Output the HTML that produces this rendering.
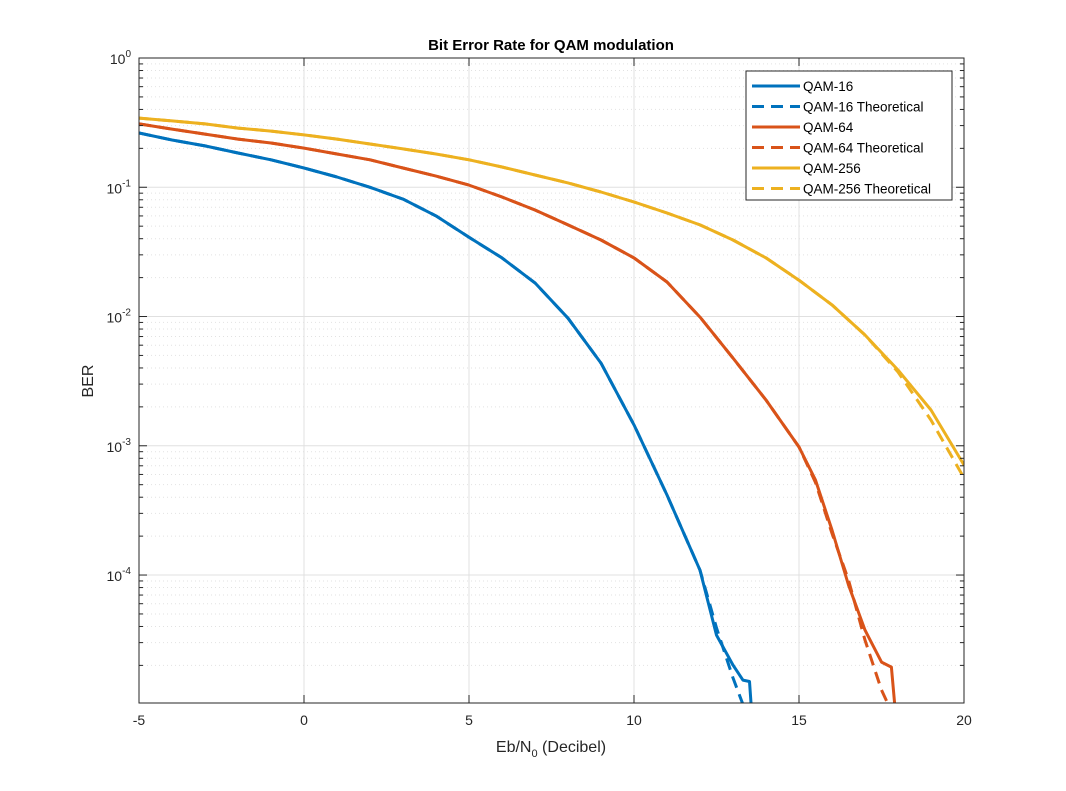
<!DOCTYPE html>
<html><head><meta charset="utf-8"><style>
html,body{margin:0;padding:0;background:#fff;width:1066px;height:791px;overflow:hidden}
svg text{font-family:"Liberation Sans",Arial,sans-serif;fill:#262626}
</style></head><body>
<svg id="chart" width="1066" height="791" xmlns="http://www.w3.org/2000/svg">
<rect x="0" y="0" width="1066" height="791" fill="#fff"/>
<rect x="139" y="58" width="825" height="645" fill="#fff"/>
<g id="grid"></g>
<g id="series"></g>
<rect x="139" y="58" width="825" height="645" fill="none" stroke="#262626" stroke-width="1"/>
<g id="ticks"></g>
<text x="551" y="50" text-anchor="middle" font-size="15" font-weight="bold" style="fill:#000">Bit Error Rate for QAM modulation</text>
<text x="551" y="752" text-anchor="middle" font-size="16">Eb/N<tspan font-size="11" dy="5">0</tspan><tspan dy="-5"> (Decibel)</tspan></text>
<text transform="translate(93,381) rotate(-90)" text-anchor="middle" font-size="16">BER</text>
<g id="legend"></g>
</svg>
<script>
const snrBlue = [-5,-4,-3,-2,-1,0,1,2,3,4,5,6,7,8,9,10,11,12,12.5,13,13.3,13.5,13.55];
const qam16 = [0.263,0.232,0.209,0.184,0.163,0.141,0.120,0.100,0.081,0.060,0.041,0.0284,0.0182,0.0097,0.00436,0.00145,4.16e-4,1.09e-4,3.43e-5,2.01e-5,1.54e-5,1.50e-5,1.0e-5];
const snrBlueT = [-5,-4,-3,-2,-1,0,1,2,3,4,5,6,7,8,9,10,11,12,12.5,13,13.3];
const qam16T = [0.263,0.232,0.209,0.184,0.163,0.141,0.120,0.100,0.081,0.060,0.041,0.0284,0.0182,0.0097,0.00436,0.00145,4.16e-4,1.09e-4,3.9e-5,1.6e-5,1.0e-5];
const snrOrange = [-5,-4,-3,-2,-1,0,1,2,3,4,5,6,7,8,9,10,11,12,13,14,15,15.5,16,16.5,17,17.5,17.8,17.9];
const qam64 = [0.309,0.282,0.258,0.236,0.220,0.201,0.181,0.163,0.141,0.122,0.104,0.084,0.0667,0.0511,0.0391,0.0284,0.0185,0.0099,0.00477,0.00226,9.78e-4,5.43e-4,2.23e-4,8.37e-5,3.75e-5,2.12e-5,1.94e-5,1.0e-5];
const snrOrangeT = [-5,-4,-3,-2,-1,0,1,2,3,4,5,6,7,8,9,10,11,12,13,14,15,15.5,16,16.5,17,17.5,17.7];
const qam64T = [0.309,0.282,0.258,0.236,0.220,0.201,0.181,0.163,0.141,0.122,0.104,0.084,0.0667,0.0511,0.0391,0.0284,0.0185,0.0099,0.00477,0.00226,9.78e-4,5.2e-4,2.1e-4,9.15e-5,3.14e-5,1.29e-5,1.0e-5];
const snrYellow = [-5,-4,-3,-2,-1,0,1,2,3,4,5,6,7,8,9,10,11,12,13,14,15,16,17,18,19,20];
const qam256 = [0.343,0.326,0.309,0.287,0.272,0.254,0.236,0.216,0.198,0.181,0.163,0.1435,0.1244,0.108,0.0919,0.0769,0.0632,0.0511,0.0391,0.0284,0.0191,0.0123,0.00719,0.00386,0.00189,7.10e-4];
const qam256T = [0.343,0.326,0.309,0.287,0.272,0.254,0.236,0.216,0.198,0.181,0.163,0.1435,0.1244,0.108,0.0919,0.0769,0.0632,0.0511,0.0391,0.0284,0.0191,0.0123,0.00719,0.00372,0.00158,5.63e-4];
const xTicks = [-5,0,5,10,15,20];
const yDecades = [0,-1,-2,-3,-4];
const legendLabels = ["QAM-16","QAM-16 Theoretical","QAM-64","QAM-64 Theoretical","QAM-256","QAM-256 Theoretical"];

const NS="http://www.w3.org/2000/svg";
const X0=139,X1=964,Y0=58,Y1=703,xmin=-5,xmax=20,lmax=0,lmin=-4.99;
const sx=v=>X0+(v-xmin)/(xmax-xmin)*(X1-X0);
const sy=v=>Y0+(lmax-Math.log10(v))/(lmax-lmin)*(Y1-Y0);
function mk(tag,attrs,parent){const e=document.createElementNS(NS,tag);for(const k in attrs)e.setAttribute(k,attrs[k]);parent.appendChild(e);return e;}
const grid=document.getElementById('grid'),ticks=document.getElementById('ticks'),series=document.getElementById('series'),legend=document.getElementById('legend');
for(let d=-5;d<0;d++){for(let m=2;m<=9;m++){const v=m*Math.pow(10,d);const y=sy(v);if(y<Y0||y>Y1)continue;
 const l=mk('line',{x1:X0,x2:X1,y1:y,y2:y,stroke:'#e2e2e2','stroke-dasharray':'1,3','stroke-width':1},grid);
 
 mk('line',{x1:X0,x2:X0+4,y1:y,y2:y,stroke:'#262626'},ticks);mk('line',{x1:X1,x2:X1-4,y1:y,y2:y,stroke:'#262626'},ticks);}}
yDecades.forEach(d=>{const y=sy(Math.pow(10,d));
 const l=mk('line',{x1:X0,x2:X1,y1:y,y2:y,stroke:'#e0e0e0','stroke-width':1},grid);
 
 mk('line',{x1:X0,x2:X0+8,y1:y,y2:y,stroke:'#262626'},ticks);mk('line',{x1:X1,x2:X1-8,y1:y,y2:y,stroke:'#262626'},ticks);
 const t=mk('text',{x:X0-8,y:y+6,'text-anchor':'end','font-size':14},ticks);
 
 t.textContent='10';const s=mk('tspan',{'font-size':10,dy:-7},t);s.textContent=String(d);});
xTicks.forEach(v=>{const x=sx(v);
 const l=mk('line',{x1:x,x2:x,y1:Y0,y2:Y1,stroke:'#e0e0e0','stroke-width':1},grid);
 
 mk('line',{x1:x,x2:x,y1:Y1,y2:Y1-8,stroke:'#262626'},ticks);mk('line',{x1:x,x2:x,y1:Y0,y2:Y0+8,stroke:'#262626'},ticks);
 const t=mk('text',{x:x,y:725,'text-anchor':'middle','font-size':14},ticks);
 t.textContent=String(v);});
const cp=mk('clipPath',{id:'clip'},document.getElementById('chart'));mk('rect',{x:X0,y:Y0,width:X1-X0,height:Y1-Y0},cp);
const defs=[[snrBlue,qam16,'#0072BD',false,'qam16-line'],[snrBlueT,qam16T,'#0072BD',true,'qam16-theoretical-line'],
 [snrOrange,qam64,'#D95319',false,'qam64-line'],[snrOrangeT,qam64T,'#D95319',true,'qam64-theoretical-line'],
 [snrYellow,qam256,'#EDB120',false,'qam256-line'],[snrYellow,qam256T,'#EDB120',true,'qam256-theoretical-line']];
defs.forEach(([xs,ys,c,dash,name])=>{const d=xs.map((x,i)=>(i?'L':'M')+sx(x).toFixed(1)+','+sy(ys[i]).toFixed(1)).join('');
 const p=mk('path',{d:d,fill:'none',stroke:c,'stroke-width':3,'clip-path':'url(#clip)','stroke-linejoin':'round'},series);
 if(dash)p.setAttribute('stroke-dasharray','12,7');
 });
mk('rect',{x:746,y:71,width:206,height:129,fill:'#fff',stroke:'#262626'},legend);
legendLabels.forEach((lab,i)=>{const y=86+i*20.5;const c=defs[i][2];
 const g=mk('g',{},legend);
 const l=mk('line',{x1:752,x2:800,y1:y,y2:y,stroke:c,'stroke-width':3},g);if(defs[i][3])l.setAttribute('stroke-dasharray','12,7');
 const t=mk('text',{x:803,y:y+5,'font-size':13.5,style:'fill:#000'},g);t.textContent=lab;});
</script>
</body></html>
